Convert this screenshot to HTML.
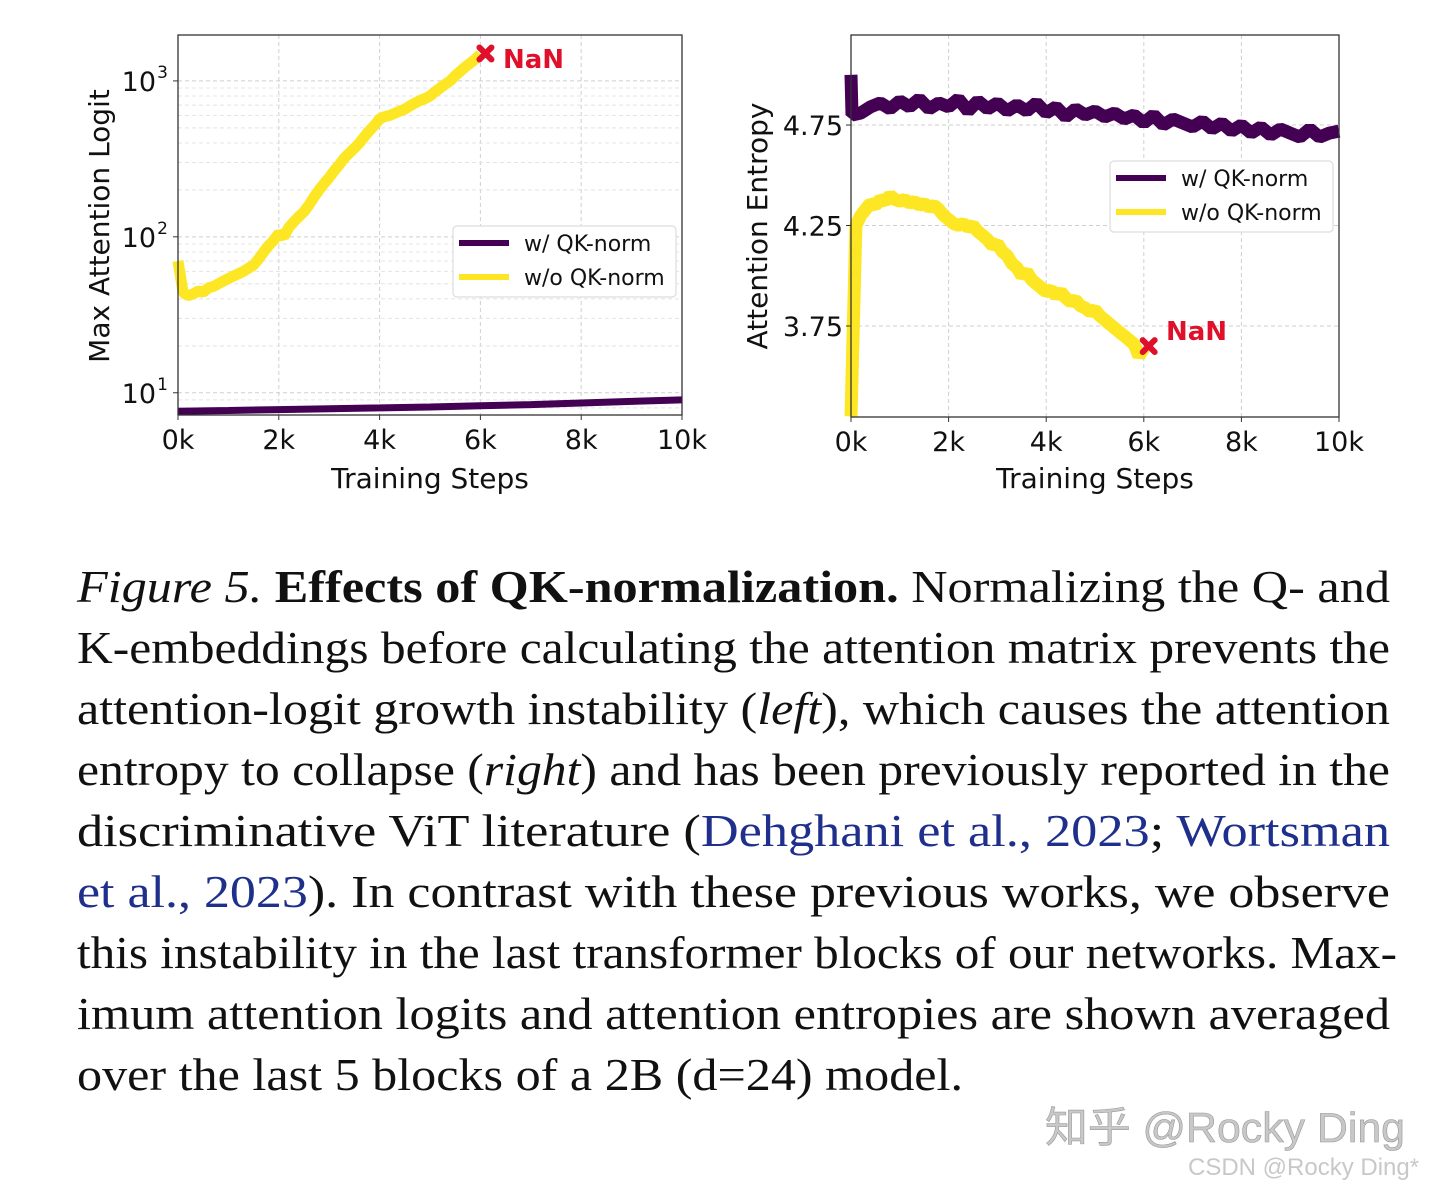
<!DOCTYPE html>
<html><head><meta charset="utf-8">
<style>
html,body{margin:0;padding:0;background:#fff;}
body{width:1440px;height:1192px;overflow:hidden;position:relative;}
svg{position:absolute;left:0;top:0;}
</style></head>
<body>
<svg id="fig" width="1440" height="1192" font-family="'DejaVu Sans', sans-serif"></svg>
<script>
// ---- data ----
const leftYellowSteps = [0,0.1,0.2,0.3,0.4,0.5,0.6,0.7,0.8,0.9,1.0,1.1,1.2,1.3,1.4,1.5,1.6,1.7,1.8,1.9,2.0,2.1,2.2,2.3,2.4,2.5,2.6,2.7,2.8,2.9,3.0,3.1,3.2,3.3,3.4,3.5,3.6,3.7,3.8,3.9,4.0,4.1,4.2,4.3,4.4,4.5,4.6,4.7,4.8,4.9,5.0,5.1,5.2,5.3,5.4,5.5,5.6,5.7,5.8,5.9,6.0];
const leftYellowValues = [70,44,42,43,45,44,47,48,50,52,54,56,58,60,63,66,72,80,88,95,105,100,115,125,135,145,160,180,200,220,240,265,290,320,345,370,400,440,480,520,570,590,600,620,640,660,690,720,750,770,800,850,900,950,1000,1080,1150,1230,1300,1380,1480];
const leftPurpleSteps = [0,1,2,3,4,5,6,7,8,9,10];
const leftPurpleValues = [7.6,7.7,7.8,7.9,8.0,8.1,8.25,8.4,8.6,8.8,9.0];
const rightPurpleSteps = [0,0.02,0.2,0.4,0.6,0.8,1.0,1.2,1.4,1.6,1.8,2.0,2.2,2.4,2.6,2.8,3.0,3.2,3.4,3.6,3.8,4.0,4.2,4.4,4.6,4.8,5.0,5.2,5.4,5.6,5.8,6.0,6.2,6.4,6.6,6.8,7.0,7.2,7.4,7.6,7.8,8.0,8.2,8.4,8.6,8.8,9.0,9.2,9.4,9.6,9.8,10.0];
const rightPurpleValues = [5.0,4.80,4.81,4.84,4.86,4.83,4.87,4.84,4.88,4.83,4.86,4.84,4.88,4.82,4.87,4.83,4.86,4.82,4.85,4.82,4.86,4.81,4.84,4.79,4.83,4.80,4.82,4.79,4.81,4.78,4.80,4.76,4.80,4.75,4.78,4.76,4.74,4.77,4.73,4.76,4.72,4.75,4.71,4.74,4.70,4.73,4.71,4.69,4.73,4.69,4.71,4.72];
const rightYellowSteps = leftYellowSteps;
const rightYellowValues = [3.3,4.25,4.30,4.33,4.36,4.35,4.38,4.37,4.40,4.38,4.37,4.38,4.36,4.37,4.35,4.36,4.34,4.35,4.33,4.30,4.28,4.26,4.25,4.26,4.24,4.25,4.22,4.20,4.18,4.15,4.16,4.12,4.10,4.06,4.04,4.00,4.02,3.98,3.96,3.94,3.92,3.93,3.90,3.92,3.89,3.87,3.88,3.85,3.84,3.82,3.83,3.80,3.78,3.76,3.74,3.72,3.70,3.68,3.66,3.60,3.64];
const xTickValues = [0,2,4,6,8,10];
const xTickLabels = ["0k","2k","4k","6k","8k","10k"];
const leftYTickExps = [1,2,3];
const rightYTickValues = [3.75,4.25,4.75];
const rightYTickLabels = ["3.75","4.25","4.75"];
const nanStep = 6.1;
const nanLeftValue = 1500;
const nanRightValue = 3.65;

const NS="http://www.w3.org/2000/svg";
const svg=document.getElementById('fig');
function mk(tag,attrs,parent){const e=document.createElementNS(NS,tag);for(const k in attrs)e.setAttribute(k,attrs[k]);(parent||svg).appendChild(e);return e;}

const L={x0:178,x1:682,y0:35,y1:415,ymin:Math.log10(7.2),ymax:Math.log10(1970)};
const R={x0:851,x1:1339,y0:35,y1:417,ymin:3.297,ymax:5.198};
const lx=v=>L.x0+(v/10)*(L.x1-L.x0);
const ly=v=>L.y1-(Math.log10(v)-L.ymin)/(L.ymax-L.ymin)*(L.y1-L.y0);
const rx=v=>R.x0+(v/10)*(R.x1-R.x0);
const ry=v=>R.y1-(v-R.ymin)/(R.ymax-R.ymin)*(R.y1-R.y0);

function grid(A,fx,fy,yvals,minor){
  const g=mk('g',{});
  
  
  xTickValues.forEach(v=>mk('line',{x1:fx(v),x2:fx(v),y1:A.y0,y2:A.y1,stroke:'#cfcfcf','stroke-width':1,'stroke-dasharray':'4,3'},g));
  yvals.forEach(v=>mk('line',{x1:A.x0,x2:A.x1,y1:fy(v),y2:fy(v),stroke:'#cfcfcf','stroke-width':1,'stroke-dasharray':'4,3'},g));
  minor.forEach(v=>mk('line',{x1:A.x0,x2:A.x1,y1:fy(v),y2:fy(v),stroke:'#e4e4e4','stroke-width':1,'stroke-dasharray':'4,3'},g));
}
function line(xs,ys,fx,fy,color,w,name){
  const p=mk('polyline',{points:xs.map((x,i)=>fx(x).toFixed(1)+','+fy(ys[i]).toFixed(1)).join(' '),fill:'none',stroke:color,'stroke-width':w,'stroke-linejoin':'bevel'});
  
  
}
function frame(A,name){
  const r=mk('rect',{x:A.x0,y:A.y0,width:A.x1-A.x0,height:A.y1-A.y0,fill:'none',stroke:'#333','stroke-width':1.3});
  
  
}
function xticks(A,fx,cx){
  xTickValues.forEach((v,i)=>{
    mk('line',{x1:fx(v),x2:fx(v),y1:A.y1,y2:A.y1+5,stroke:'#333'});
    const t=mk('text',{x:fx(v),y:A.y1+34,'font-size':27,'text-anchor':'middle',fill:'#111'});t.textContent=xTickLabels[i];
    
    
  });
  const t=mk('text',{x:cx,y:488,'font-size':28,'text-anchor':'middle',fill:'#111'});t.textContent='Training Steps';
  
  
}
function legend(x,y,name){
  const g=mk('g',{});
  
  
  mk('rect',{x:x,y:y,width:223,height:71,rx:4,fill:'#fff',stroke:'#ddd','stroke-width':1.2},g);
  mk('line',{x1:x+6,x2:x+56,y1:y+17,y2:y+17,stroke:'#440154','stroke-width':6},g);
  mk('line',{x1:x+6,x2:x+56,y1:y+51,y2:y+51,stroke:'#fde725','stroke-width':6},g);
  let t=mk('text',{x:x+71,y:y+25,'font-size':22,fill:'#111'},g);t.textContent='w/ QK-norm';
  t=mk('text',{x:x+71,y:y+59,'font-size':22,fill:'#111'},g);t.textContent='w/o QK-norm';
}
function nan(px,py,tx,ty){
  const g=mk('g',{});
  
  
  mk('path',{d:`M${px-6},${py-6}L${px+6},${py+6}M${px+6},${py-6}L${px-6},${py+6}`,stroke:'#e0102a','stroke-width':6,'stroke-linecap':'round'},g);
  const t=mk('text',{x:tx,y:ty,'font-size':26,'font-weight':'bold',fill:'#e0102a'},g);t.textContent='NaN';
}

// left chart
const minorL=[];[1,10,100,1000].forEach(d=>{for(let k=2;k<=9;k++){const v=d*k;if(v>7.2&&v<1970)minorL.push(v);}});
grid(L,lx,ly,leftYTickExps.map(e=>Math.pow(10,e)),minorL);
line(leftPurpleSteps,leftPurpleValues,lx,ly,'#440154',7,'line-w-qk-norm-left');
line(leftYellowSteps,leftYellowValues,lx,ly,'#fde725',11,'line-wo-qk-norm-left');
frame(L,'left-plot-area');
leftYTickExps.forEach(e=>{
  const y=ly(Math.pow(10,e));
  mk('line',{x1:L.x0-5,x2:L.x0,y1:y,y2:y,stroke:'#333'});
  const t=mk('text',{x:L.x0-22,y:y+10,'font-size':27,'text-anchor':'end',fill:'#111'});
  
  
  t.textContent='10';
  const s=mk('text',{x:L.x0-10,y:y-3,'font-size':17,'text-anchor':'end',fill:'#111'});s.textContent=String(e);
});
xticks(L,lx,430);
let yt=mk('text',{x:0,y:0,'font-size':28,'text-anchor':'middle',fill:'#111',transform:'translate(109,226) rotate(-90)'});yt.textContent='Max Attention Logit';


legend(453,226,'legend-left');
nan(lx(nanStep),ly(nanLeftValue),503,68);

// right chart
grid(R,rx,ry,rightYTickValues,[]);
line(rightPurpleSteps,rightPurpleValues,rx,ry,'#440154',13,'line-w-qk-norm-right');
line(rightYellowSteps,rightYellowValues,rx,ry,'#fde725',13,'line-wo-qk-norm-right');
frame(R,'right-plot-area');
rightYTickValues.forEach((v,i)=>{
  const y=ry(v);
  mk('line',{x1:R.x0-5,x2:R.x0,y1:y,y2:y,stroke:'#333'});
  const t=mk('text',{x:R.x0-8,y:y+10,'font-size':27,'text-anchor':'end',fill:'#111'});t.textContent=rightYTickLabels[i];
  
  
});
xticks(R,rx,1095);
yt=mk('text',{x:0,y:0,'font-size':28,'text-anchor':'middle',fill:'#111',transform:'translate(767,226) rotate(-90)'});yt.textContent='Attention Entropy';


legend(1110,161,'legend-right');
nan(rx(nanStep),ry(nanRightValue),1166,340);
</script>
<svg width="1440" height="1192" font-family="Liberation Serif, Times New Roman, serif" font-size="46" fill="#111">
<text x="77" y="602" textLength="1313" lengthAdjust="spacingAndGlyphs"><tspan font-style="italic">Figure 5.</tspan>  <tspan font-weight="bold">Effects of QK-normalization.</tspan> Normalizing the Q- and</text>
<text x="77" y="663" textLength="1313" lengthAdjust="spacingAndGlyphs">K-embeddings before calculating the attention matrix prevents the</text>
<text x="77" y="724" textLength="1313" lengthAdjust="spacingAndGlyphs">attention-logit growth instability (<tspan font-style="italic">left</tspan>), which causes the attention</text>
<text x="77" y="785" textLength="1313" lengthAdjust="spacingAndGlyphs">entropy to collapse (<tspan font-style="italic">right</tspan>) and has been previously reported in the</text>
<text x="77" y="846" textLength="1313" lengthAdjust="spacingAndGlyphs">discriminative ViT literature (<tspan fill="#1f2f8c">Dehghani et al., 2023</tspan>; <tspan fill="#1f2f8c">Wortsman</tspan></text>
<text x="77" y="907" textLength="1313" lengthAdjust="spacingAndGlyphs"><tspan fill="#1f2f8c">et al., 2023</tspan>).  In contrast with these previous works, we observe</text>
<text x="77" y="968" textLength="1320" lengthAdjust="spacingAndGlyphs">this instability in the last transformer blocks of our networks. Max-</text>
<text x="77" y="1029" textLength="1313" lengthAdjust="spacingAndGlyphs">imum attention logits and attention entropies are shown averaged</text>
<text x="77" y="1090" textLength="886" lengthAdjust="spacingAndGlyphs">over the last 5 blocks of a 2B (d=24) model.</text>
<text x="1045" y="1142" textLength="360" lengthAdjust="spacingAndGlyphs" font-family="'Liberation Sans','Noto Sans CJK SC',sans-serif" font-size="42" fill="#c8c8c8" stroke="#999" stroke-width="0.6">知乎 @Rocky Ding</text>
<text x="1188" y="1175" font-family="'Liberation Sans',sans-serif" font-size="24" fill="#c8c8c8">CSDN @Rocky Ding*</text>
</svg>
</body></html>
